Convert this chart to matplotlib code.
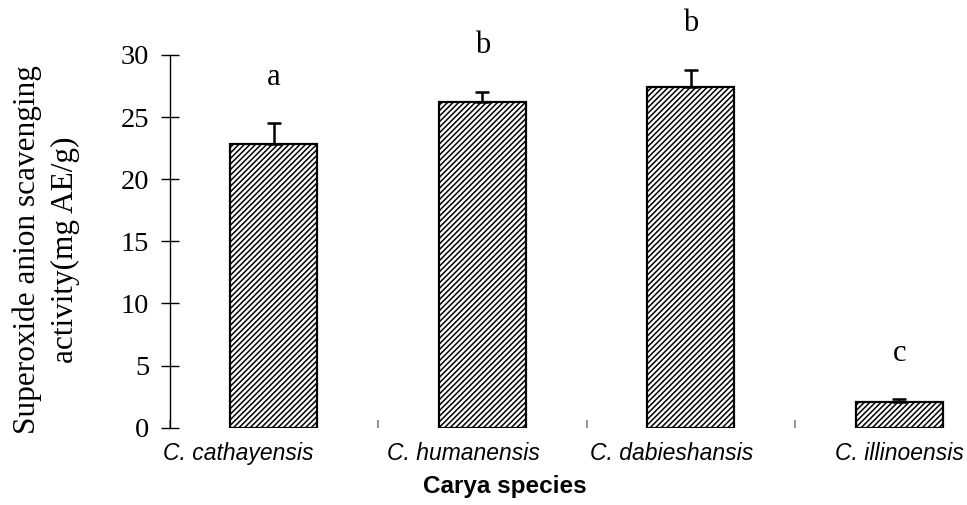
import numpy as np
import matplotlib as mpl
mpl.rcParams['hatch.linewidth'] = 1.1
mpl.rcParams['hatch.color'] = 'black'
import matplotlib.pyplot as plt

#-----------------------------------------------------------------------------
# Superoxide anion scavenging activity of four Carya species
#-----------------------------------------------------------------------------
species = ["C. cathayensis", "C. humanensis", "C. dabieshansis", "C. illinoensis"]
activity = [22.85, 26.2, 27.45, 2.1]     # mg AE/g
stderr = [1.65, 0.85, 1.35, 0.2]
letters = ["a", "b", "b", "c"]

lab_shift = [-0.17, -0.09, -0.09, 0.0]   # Excel-like label offsets (category units)

fig = plt.figure(figsize=(9.67, 5.05), dpi=100)
ax = fig.add_axes([0.1753, 0.1531, 0.8625, 0.738])

x = np.arange(len(species)) + 0.5
ax.bar(x, activity, width=0.417, color='white', edgecolor='black',
       linewidth=1.6, hatch='//////', zorder=2)
ax.errorbar(x, activity, yerr=[np.zeros(len(stderr)), stderr], fmt='none',
            ecolor='black', elinewidth=1.8, capsize=4.9, capthick=1.8, zorder=3)

for xi, v, e, l in zip(x, activity, stderr, letters):
    ax.text(xi, v + e + 3.7, l, ha='center', va='center', fontsize=22,
            family='Liberation Serif', clip_on=False)

ax.set_xlim(0, 4)
ax.set_ylim(0, 30)
ax.set_yticks(np.arange(0, 31, 5))
ax.tick_params(axis='y', direction='inout', length=13, width=1, pad=8,
               labelsize=20.5, labelfontfamily='Liberation Serif')

# category boundary ticks (small, grey) and labels at centres
ax.set_xticks(np.arange(0, 5), minor=True)
ax.set_xticks(x + np.array(lab_shift))
ax.set_xticklabels(species, fontsize=16.5, style='italic', family='Liberation Sans')
ax.tick_params(axis='x', which='major', length=0, pad=10)
ax.tick_params(axis='x', which='minor', direction='in', length=6, width=1.2, color='grey')

for s in ['top', 'right', 'bottom']:
    ax.spines[s].set_visible(False)
ax.spines['left'].set_linewidth(1)

fig.text(0.048, 0.505, "Superoxide anion scavenging\nactivity(mg AE/g)", rotation=90,
         ha='center', va='center', multialignment='center', fontsize=22.5,
         family='Liberation Serif', linespacing=1.4)
fig.text(0.522, 0.036, "Carya species", ha='center', va='center', fontsize=17.5,
         fontweight='bold', family='Liberation Sans')

fig.savefig("out.png", dpi=100)
